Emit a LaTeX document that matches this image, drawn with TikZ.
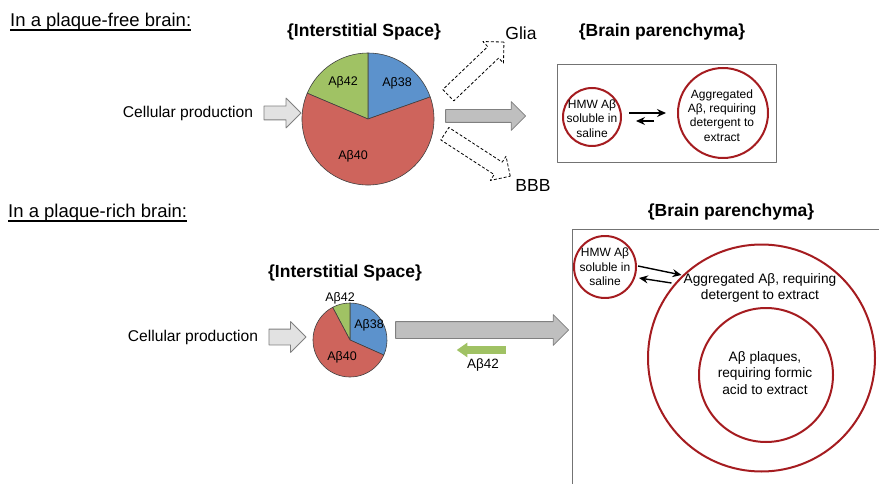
\documentclass[tikz,border=0pt]{standalone}
\usepackage{fontspec}
\setmainfont{Liberation Sans}
\usetikzlibrary{shapes.arrows,calc,arrows.meta}
\definecolor{pieblue}{RGB}{92,146,204}
\definecolor{piered}{RGB}{206,100,92}
\definecolor{piegreen}{RGB}{160,194,100}
\definecolor{ringred}{RGB}{165,28,32}
\definecolor{arrowgrey}{RGB}{191,191,191}
\definecolor{lightgrey}{RGB}{226,226,226}
\newcommand{\setfs}[2]{\fontsize{#1}{#2}\selectfont}
\tikzset{
  titletxt/.style={font=\setfs{18.5}{22}, inner sep=0pt, anchor=base west},
  headtxt/.style={font=\bfseries\setfs{17.5}{21}},
  lbl/.style={font=\setfs{15.6}{19}},
  bigtxt/.style={font=\setfs{17.5}{21}},
  pielbl/.style={font=\setfs{12.5}{14}, inner sep=0pt},
  pieslice/.style={draw=black!75, line width=0.6pt},
  ringnode/.style={circle, draw=ringred, line width=2pt, inner sep=0pt},
  ringtxt/.style={align=center, inner sep=0pt, font=\setfs{12}{14.3}},
  parttxt/.style={align=center, inner sep=0pt, font=\setfs{13.7}{16.4}},
  fatarrow/.style={single arrow, draw=black!50, line width=0.8pt, inner xsep=0pt, anchor=tail, single arrow tip angle=90},
  dasharrow/.style={fatarrow, draw=black, fill=white, dash pattern=on 3pt off 2pt},
  boxline/.style={draw=black!55, line width=0.9pt},
  eqarrow/.style={-{Stealth[length=9pt,width=8pt,inset=3pt]}, line width=1.4pt}
}
\begin{document}
\begin{tikzpicture}[x=1pt, y=-1pt, line join=round]
\useasboundingbox (0,0) rectangle (879,484);
\node[titletxt] (ttlfree) at (10,27) {In a plaque-free brain:};
\draw[line width=1.6pt] ([yshift=-3pt]ttlfree.base west) -- ([yshift=-3pt]ttlfree.base east);
\node[headtxt] (isp1) at (364,32) {\{Interstitial Space\}};
\node[headtxt] (bp1) at (662,32) {\{Brain parenchyma\}};
\node[lbl] (cell1) at (188,113) {Cellular production};
\node[circle, minimum size=132, inner sep=0pt] (pie1) at (368,119) {};
\foreach \a/\b/\c in {19.5/90/pieblue,90/157/piegreen,157/379.5/piered}
  \filldraw[pieslice, fill=\c] (pie1.center) -- ++(\a:66pt) arc[start angle=\a, end angle=\b, radius=66pt] -- cycle;
\foreach \t/\x/\y in {42/343/82,38/397/83,40/353/156}
  \node[pielbl] (free\t) at (\x,\y) {Aβ\t};
\node[fatarrow, fill=lightgrey, inner ysep=6.5pt, single arrow head extend=8, minimum height=37] (prod1) at ([xshift=7pt]cell1.east) {};
\node[fatarrow, fill=arrowgrey, inner ysep=6pt, single arrow head extend=8, minimum height=80] (flow1) at ([shift={(11,-3)}]pie1.east) {};
\node[dasharrow, inner ysep=7.5pt, single arrow head extend=7, minimum height=77, rotate=43.7] (toglia) at ([shift={(80,-23.5)}]pie1.center) {};
\node[dasharrow, inner ysep=7pt, single arrow head extend=7, minimum height=78, rotate=-33] (tobbb) at ([shift={(76.5,14.5)}]pie1.center) {};
\node[bigtxt] (glia) at (521,33) {Glia};
\node[bigtxt] (bbb) at (533,185) {BBB};
\node[boxline, minimum width=219, minimum height=98, inner sep=0pt] (box1) at (666.5,113) {};
\node[ringnode, minimum size=58] (hmw1) at (592,117) {};
\node[ringtxt] (hmw1t) at ([yshift=-1.5pt]hmw1.center) {HMW Aβ\\soluble in\\saline};
\node[ringnode, minimum size=90] (agg1) at (723,113) {};
\node[ringtxt] (agg1t) at ([shift={(-1,2.5)}]agg1.center) {Aggregated\\Aβ, requiring\\detergent to\\extract};
\draw[eqarrow] ($(hmw1.east)+(7,-4)$) -- ($(agg1.west)+(-11,0)$);
\draw[eqarrow] ($(agg1.west)+(-23,8)$) -- ($(hmw1.east)+(14,4)$);

\node[titletxt] (ttlrich) at (8,218) {In a plaque-rich brain:};
\draw[line width=1.6pt] ([yshift=-3pt]ttlrich.base west) -- ([yshift=-3pt]ttlrich.base east);
\node[headtxt] (isp2) at (345,273) {\{Interstitial Space\}};
\node[headtxt] (bp2) at (731,212) {\{Brain parenchyma\}};
\node[lbl] (cell2) at (193,337) {Cellular production};
\node[circle, minimum size=74, inner sep=0pt] (pie2) at (350,340) {};
\foreach \a/\b/\c in {-24/90/pieblue,90/118/piegreen,118/336/piered}
  \filldraw[pieslice, fill=\c] (pie2.center) -- ++(\a:37pt) arc[start angle=\a, end angle=\b, radius=37pt] -- cycle;
\foreach \t/\x/\y in {42/340/298,38/369/325,40/342/357}
  \node[pielbl] (rich\t) at (\x,\y) {Aβ\t};
\node[fatarrow, fill=lightgrey, inner ysep=7.5pt, single arrow head extend=7.5, minimum height=37] (prod2) at ([xshift=7pt]cell2.east) {};
\node[fatarrow, fill=arrowgrey, inner ysep=8pt, single arrow head extend=7, minimum height=173] (flow2) at ([shift={(8,-10)}]pie2.east) {};
\node[fatarrow, fill=piegreen, draw=none, inner ysep=3.5pt, single arrow head extend=3.5, minimum height=49, single arrow tip angle=70, rotate=180] (back42) at ([shift={(111,20)}]flow2.tail) {};
\node[font=\setfs{13.5}{16}, inner sep=0pt] (back42t) at (483,365) {Aβ42};
\draw[boxline] (572,484) -- (572,229) -- (879,229);
\node[ringnode, minimum size=62] (hmw2) at (605,267) {};
\node[ringtxt] (hmw2t) at (hmw2.center) {HMW Aβ\\soluble in\\saline};
\node[ringnode, minimum size=227] (aggring) at (761.5,358) {};
\node[parttxt, font=\setfs{13.7}{16}] (aggtext) at (760,288) {Aggregated Aβ, requiring\\detergent to extract};
\node[ringnode, minimum size=134] (plaque) at (766,375) {};
\node[parttxt] (plaquet) at (765,373) {Aβ plaques,\\requiring formic\\acid to extract};
\draw[eqarrow] ([shift={(1,-1)}]hmw2.east) -- ([shift={(-2,-13)}]aggtext.west);
\draw[eqarrow] ([shift={(-12,-5)}]aggtext.west) -- ([shift={(2,11)}]hmw2.east);
\end{tikzpicture}
\end{document}
